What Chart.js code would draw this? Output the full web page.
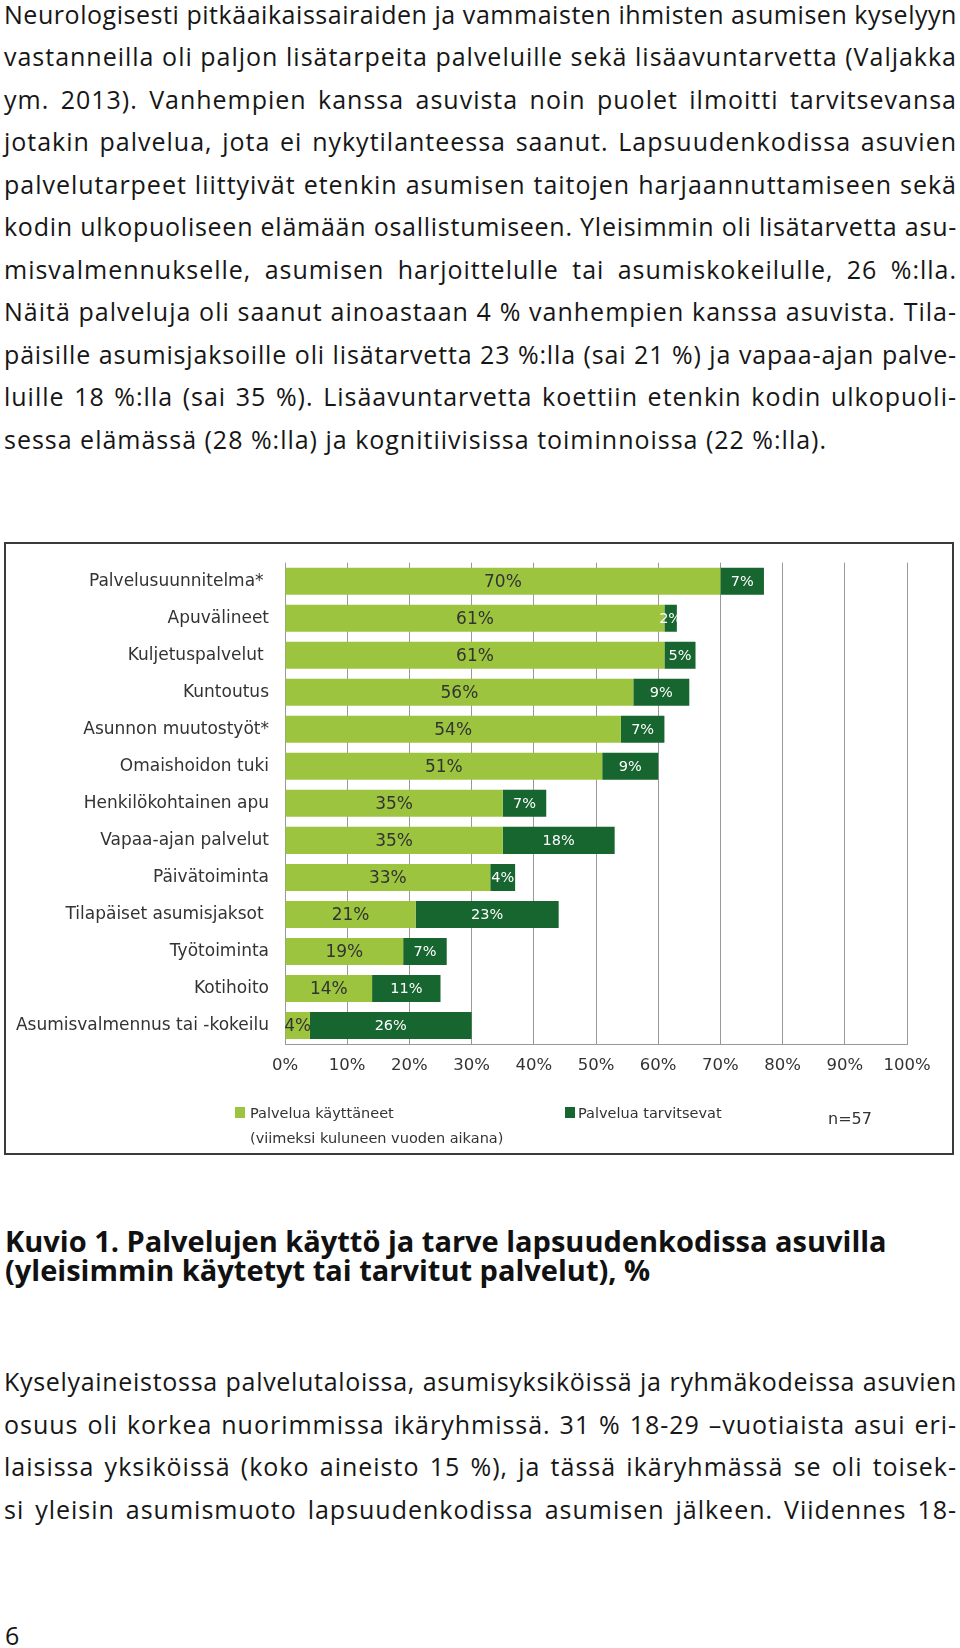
<!DOCTYPE html>
<html lang="fi">
<head>
<meta charset="utf-8">
<script src="https://cdn.jsdelivr.net/npm/chart.js@4.4.0/dist/chart.umd.min.js"></script>
<style>
  html, body { margin: 0; padding: 0; background: #fff; }
  body { width: 960px; height: 1648px; position: relative; overflow: hidden; color: #161616; }
  .para { position: absolute; left: 4px; width: 953px; font-family: "Open Sans", sans-serif; font-size: 25px; line-height: 42.5px; }
  .para div { text-align: justify; text-align-last: justify; white-space: normal; }
  .para div.last { text-align: left; text-align-last: left; }
  .caption { position: absolute; left: 5px; top: 1226px; font-family: "Open Sans", sans-serif; font-weight: 700; font-size: 25px; line-height: 29px; white-space: nowrap; color: #111; }
  .pageno { position: absolute; left: 5px; top: 1620px; font-family: "Open Sans", sans-serif; font-size: 25px; line-height: 30px; }
  #box { position: absolute; left: 4px; top: 542px; width: 950px; height: 613px; box-sizing: border-box; border: 2px solid #3a3a3a; }
  #chart { position: absolute; left: 6px; top: 544px; }
  .leg { position: absolute; font-family: "DejaVu Sans", sans-serif; font-size: 14.5px; color: #333; white-space: nowrap; line-height: 18px; }
  .sq { position: absolute; width: 10px; height: 11px; }
</style>
</head>
<body>
<div class="para" id="p1" style="top:-7.5px">
  <div>Neurologisesti pitkäaikaissairaiden ja vammaisten ihmisten asumisen kyselyyn</div>
  <div>vastanneilla oli paljon lisätarpeita palveluille sekä lisäavuntarvetta (Valjakka</div>
  <div>ym. 2013). Vanhempien kanssa asuvista noin puolet ilmoitti tarvitsevansa</div>
  <div>jotakin palvelua, jota ei nykytilanteessa saanut. Lapsuudenkodissa asuvien</div>
  <div>palvelutarpeet liittyivät etenkin asumisen taitojen harjaannuttamiseen sekä</div>
  <div>kodin ulkopuoliseen elämään osallistumiseen. Yleisimmin oli lisätarvetta asu-</div>
  <div>misvalmennukselle, asumisen harjoittelulle tai asumiskokeilulle, 26 %:lla.</div>
  <div>Näitä palveluja oli saanut ainoastaan 4 % vanhempien kanssa asuvista. Tila-</div>
  <div>päisille asumisjaksoille oli lisätarvetta 23 %:lla (sai 21 %) ja vapaa-ajan palve-</div>
  <div>luille 18 %:lla (sai 35 %). Lisäavuntarvetta koettiin etenkin kodin ulkopuoli-</div>
  <div class="last" id="lastline"><span>sessa elämässä (28 %:lla) ja kognitiivisissa toiminnoissa (22 %:lla).</span></div>
</div>

<div id="box"></div>
<canvas id="chart" width="946" height="608"></canvas>

<div class="sq" style="left:235px; top:1107px; background:#9cc43e"></div>
<div class="leg" style="left:250px; top:1104px">Palvelua käyttäneet</div>
<div class="leg" style="left:250px; top:1129px">(viimeksi kuluneen vuoden aikana)</div>
<div class="sq" style="left:565px; top:1107px; background:#17652f"></div>
<div class="leg" style="left:578px; top:1104px">Palvelua tarvitsevat</div>
<div class="leg" style="left:828px; top:1110px; font-size:16px">n=57</div>

<div class="caption" id="cap">
  <div><span id="cap1">Kuvio 1. Palvelujen käyttö ja tarve lapsuudenkodissa asuvilla</span></div>
  <div>(yleisimmin käytetyt tai tarvitut palvelut), %</div>
</div>

<div class="para" id="p2" style="top:1360px">
  <div>Kyselyaineistossa palvelutaloissa, asumisyksiköissä ja ryhmäkodeissa asuvien</div>
  <div>osuus oli korkea nuorimmissa ikäryhmissä. 31 % 18-29 –vuotiaista asui eri-</div>
  <div>laisissa yksiköissä (koko aineisto 15 %), ja tässä ikäryhmässä se oli toisek-</div>
  <div>si yleisin asumismuoto lapsuudenkodissa asumisen jälkeen. Viidennes 18-</div>
</div>

<div class="pageno">6</div>

<script>
// ---- Data ----
const categories = [
  "Palvelusuunnitelma* ",
  "Apuvälineet",
  "Kuljetuspalvelut ",
  "Kuntoutus",
  "Asunnon muutostyöt*",
  "Omaishoidon tuki",
  "Henkilökohtainen apu",
  "Vapaa-ajan palvelut",
  "Päivätoiminta",
  "Tilapäiset asumisjaksot ",
  "Työtoiminta",
  "Kotihoito",
  "Asumisvalmennus tai -kokeilu"
];
const usedValues   = [70, 61, 61, 56, 54, 51, 35, 35, 33, 21, 19, 14, 4];
const neededValues = [ 7,  2,  5,  9,  7,  9,  7, 18,  4, 23,  7, 11, 26];
const seriesNames  = ["Palvelua käyttäneet", "Palvelua tarvitsevat"];
const xTickValues  = [0, 10, 20, 30, 40, 50, 60, 70, 80, 90, 100];

// ---- text fitting ----
function fitLines() {
  // paragraph letter-spacing from the unjustified last line (target width 823px)
  const last = document.querySelector('#lastline span');
  const w = last.getBoundingClientRect().width;
  const n = last.textContent.length;
  let ls = Math.max(-1, Math.min(1.5, (823 - w) / n));
  document.getElementById('p1').style.letterSpacing = ls + 'px';
  document.getElementById('p2').style.letterSpacing = ls + 'px';
  document.querySelectorAll('.para div').forEach(el => {
    let l = ls;
    while (el.getBoundingClientRect().height > 50 && l > -3) {
      l -= 0.05;
      el.style.letterSpacing = l + 'px';
    }
  });
  // caption: scale font so the first line is 883px wide
  const c1 = document.getElementById('cap1');
  const cw = c1.getBoundingClientRect().width;
  const fs = 25 * 883 / cw;
  document.getElementById('cap').style.fontSize = Math.min(29, fs) + 'px';
}

const labelPlugin = {
  id: 'barLabels',
  afterDatasetsDraw(chart) {
    const ctx = chart.ctx;
    chart.data.datasets.forEach((ds, di) => {
      const meta = chart.getDatasetMeta(di);
      meta.data.forEach((bar, i) => {
        const v = ds.data[i];
        const left = Math.min(bar.base, bar.x);
        const right = Math.max(bar.base, bar.x);
        ctx.save();
        ctx.beginPath();
        ctx.rect(0, bar.y - bar.height, right, bar.height * 2);
        ctx.clip();
        ctx.font = di === 0 ? '17px "DejaVu Sans"' : '14.5px "DejaVu Sans"';
        ctx.fillStyle = di === 0 ? '#333333' : '#ffffff';
        ctx.textAlign = 'center';
        ctx.textBaseline = 'middle';
        ctx.fillText(v + '%', (left + right) / 2, bar.y + 1);
        ctx.restore();
      });
    });
  }
};

function draw() {
  Chart.defaults.font.family = '"DejaVu Sans", sans-serif';
  new Chart(document.getElementById('chart'), {
    type: 'bar',
    data: {
      labels: categories,
      datasets: [
        { label: seriesNames[0], data: usedValues, backgroundColor: '#9cc43e', borderWidth: 0,
          categoryPercentage: 1, barPercentage: 0.73 },
        { label: seriesNames[1], data: neededValues, backgroundColor: '#17652f', borderWidth: 0,
          categoryPercentage: 1, barPercentage: 0.73 }
      ]
    },
    options: {
      indexAxis: 'y',
      responsive: false,
      animation: false,
      devicePixelRatio: 1,
      layout: { padding: { left: 0, right: 45, top: 18.7, bottom: 0 } },
      plugins: { legend: { display: false }, tooltip: { enabled: false } },
      scales: {
        x: {
          stacked: true, min: 0, max: 100,
          afterBuildTicks(scale) { scale.ticks = xTickValues.map(v => ({ value: v })); },
          afterFit(scale) { scale.height = 108; scale.paddingLeft = 0; scale.paddingRight = 0; },
          grid: { color: '#999999', lineWidth: 1, drawTicks: false },
          border: { display: true, color: '#999999', width: 1 },
          ticks: { padding: 12, color: '#333333', font: { size: 16.5 }, callback: v => v + '%' }
        },
        y: {
          stacked: true,
          afterFit(scale) { scale.width = 279; scale.paddingTop = 0; scale.paddingBottom = 0; },
          grid: { display: false, drawTicks: false },
          border: { display: false },
          ticks: { padding: 16, color: '#333333', font: { size: 17 } }
        }
      }
    },
    plugins: [labelPlugin]
  });
}

(document.fonts && document.fonts.ready ? document.fonts.ready : Promise.resolve()).then(() => {
  fitLines();
  draw();
});
</script>
</body>
</html>
